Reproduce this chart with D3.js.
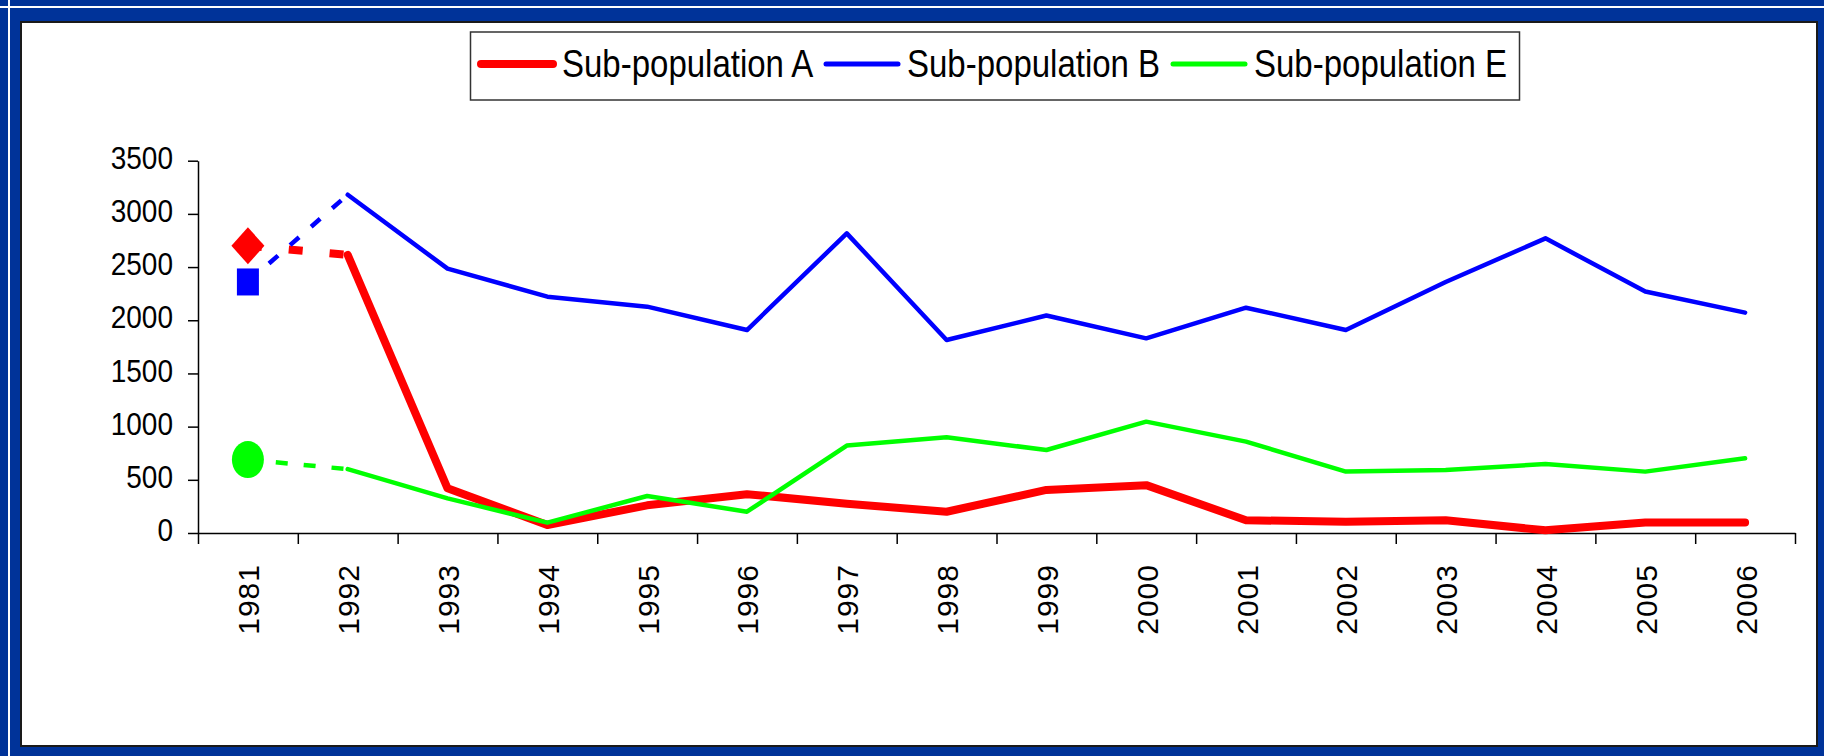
<!doctype html>
<html lang="en">
<head>
  <meta charset="utf-8">
  <title>Sub-population chart</title>
</head>
<body style="overflow: hidden; margin: 0;">
  <script src="https://cdnjs.cloudflare.com/ajax/libs/d3/7.8.5/d3.min.js"></script>
  <style>
    text { font-family: "Liberation Sans", Arial, sans-serif; fill: #000; }
  </style>

  <script type="text/javascript">

    // values
    let years = ["1981", "1992", "1993", "1994", "1995", "1996", "1997", "1998", "1999", "2000", "2001", "2002", "2003", "2004", "2005", "2006"];
    let subA = [2700, 2615, 420, 75, 260, 365, 275, 200, 405, 450, 120, 105, 120, 25, 98, 98];
    let subB = [2360, 3180, 2485, 2222, 2128, 1908, 2817, 1814, 2045, 1830, 2118, 1908, 2360, 2770, 2270, 2072];
    let subE = [690, 600, 326, 97, 348, 200, 822, 900, 780, 1047, 859, 577, 592, 649, 577, 702];
    let yTicks = [0, 500, 1000, 1500, 2000, 2500, 3000, 3500];
    let seriesNames = ["Sub-population A", "Sub-population B", "Sub-population E"];

    var config = {
      "width": 1824,
      "height": 756,
      "left": 198,
      "right": 1795,
      "top": 160.7,
      "bottom": 533
    }

    let series = [
      { name: seriesNames[0], values: subA, color: "#ff0000", width: 8, dash: "14,27", marker: "diamond" },
      { name: seriesNames[1], values: subB, color: "#0000ff", width: 4.5, dash: "12,16", marker: "square" },
      { name: seriesNames[2], values: subE, color: "#00ff00", width: 4.5, dash: "12,16", marker: "circle" }
    ];

    let svg = d3.select("body").append("svg")
      .attr("width", config.width)
      .attr("height", config.height);

    // slide frame
    svg.append("rect").attr("width", config.width).attr("height", config.height).attr("fill", "#003399");
    svg.append("rect").attr("x", 0).attr("y", 6).attr("width", config.width).attr("height", 2).attr("fill", "#fff");
    svg.append("rect").attr("x", 8).attr("y", 0).attr("width", 2).attr("height", config.height).attr("fill", "#fff");
    svg.append("rect")
      .attr("x", 21).attr("y", 22).attr("width", 1796).attr("height", 724)
      .attr("fill", "#fff").attr("stroke", "#1a1a1a").attr("stroke-width", 2);

    let x = d3.scaleBand().domain(years).range([config.left, config.right]).paddingInner(0).paddingOuter(0);
    let cx = d => x(d) + x.bandwidth() / 2;
    let xEdge = d3.scaleLinear().domain([0, years.length]).range([config.left, config.right]);
    let y = d3.scaleLinear().domain([0, 3500]).range([config.bottom, config.top]);

    // y axis
    let yAxis = svg.append("g")
      .attr("transform", "translate(" + config.left + ",0)")
      .call(d3.axisLeft(y).tickValues(yTicks).tickFormat(d3.format("d")).tickSize(10).tickSizeOuter(0).tickPadding(15));
    yAxis.select(".domain").attr("stroke", "#000").attr("stroke-width", 1.5);
    yAxis.selectAll(".tick line").attr("stroke", "#000").attr("stroke-width", 1.5);
    yAxis.selectAll(".tick text")
      .attr("x", null).attr("dy", null)
      .attr("transform", "translate(-25,7.6) scale(1,1.09)")
      .style("font-size", "28px");

    // x axis: tick marks between categories, labels at centres
    let xTickAxis = svg.append("g")
      .attr("transform", "translate(0," + config.bottom + ")")
      .call(d3.axisBottom(xEdge).ticks(years.length).tickSize(11).tickSizeOuter(0).tickFormat(""));
    xTickAxis.select(".domain").attr("stroke", "#000").attr("stroke-width", 1.5);
    xTickAxis.selectAll(".tick line").attr("stroke", "#000").attr("stroke-width", 1.5);

    let xLabelAxis = svg.append("g")
      .attr("transform", "translate(0," + config.bottom + ")")
      .call(d3.axisBottom(x).tickSize(0));
    xLabelAxis.select(".domain").remove();
    xLabelAxis.selectAll(".tick text")
      .attr("y", 0).attr("dy", null)
      .attr("text-anchor", "end")
      .attr("transform", "translate(11.5,31) rotate(-90)")
      .style("font-size", "30px")
      .style("letter-spacing", "1px");

    let line = d3.line().x(d => cx(d.year)).y(d => y(d.v)).curve(d3.curveLinear);

    series.forEach(s => {
      let pts = years.map((yr, i) => ({ year: yr, v: s.values[i] }));
      // dashed link from the 1981 marker to 1992
      svg.append("path")
        .attr("d", line(pts.slice(0, 2)))
        .attr("fill", "none")
        .attr("stroke", s.color)
        .attr("stroke-width", s.width)
        .attr("stroke-dasharray", s.dash);
      // solid series 1992-2006
      svg.append("path")
        .attr("d", line(pts.slice(1)))
        .attr("fill", "none")
        .attr("stroke", s.color)
        .attr("stroke-width", s.width)
        .attr("stroke-linejoin", "round")
        .attr("stroke-linecap", "round");
    });

    // 1981 markers
    series.forEach(s => {
      let mx = cx(years[0]), my = y(s.values[0]);
      if (s.marker == "diamond") {
        svg.append("path")
          .attr("d", "M" + mx + "," + (my - 18.5) + "L" + (mx + 16.5) + "," + my + "L" + mx + "," + (my + 18.5) + "L" + (mx - 16.5) + "," + my + "Z")
          .attr("fill", s.color);
      } else if (s.marker == "square") {
        svg.append("rect")
          .attr("x", mx - 11).attr("y", my - 13.5)
          .attr("width", 22).attr("height", 27)
          .attr("fill", s.color);
      } else {
        svg.append("ellipse")
          .attr("cx", mx).attr("cy", my)
          .attr("rx", 16).attr("ry", 18.5)
          .attr("fill", s.color);
      }
    });

    // legend
    let legend = svg.append("g");
    legend.append("rect")
      .attr("x", 470.5).attr("y", 32).attr("width", 1049).attr("height", 68)
      .attr("fill", "#fff").attr("stroke", "#333").attr("stroke-width", 1.5);
    let legendX = [481, 826, 1173];
    series.forEach((s, i) => {
      legend.append("line")
        .attr("x1", legendX[i]).attr("x2", legendX[i] + 72)
        .attr("y1", 64).attr("y2", 64)
        .attr("stroke", s.color)
        .attr("stroke-width", i == 0 ? 8 : 5)
        .attr("stroke-linecap", "round");
      legend.append("text")
        .attr("transform", "translate(" + (legendX[i] + 81) + ",77) scale(1,1.17)")
        .style("font-size", "33px")
        .text(s.name);
    });
  </script>
</body>
</html>
